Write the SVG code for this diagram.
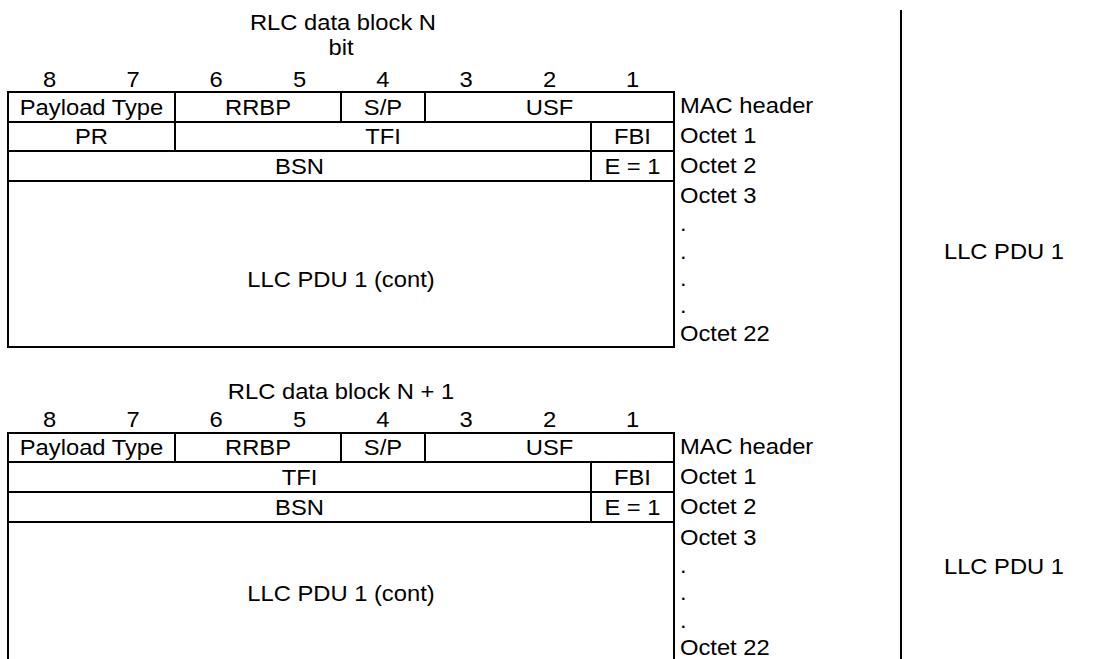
<svg xmlns="http://www.w3.org/2000/svg" width="1103" height="659" viewBox="0 0 1103 659">
<style>
.t { font-family: "Liberation Sans", Arial, sans-serif; font-size: 22px; fill: #000; transform-box: fill-box; transform: scaleX(1.08); }
.c { text-anchor: middle; transform-origin: center; }
.l { text-anchor: start; transform-origin: left center; }
.ln { stroke: #000; stroke-width: 2; fill: none; }
</style>
<rect x="0" y="0" width="1103" height="659" fill="#fff"/>

<g id="block-n">
  <g id="title-n">
    <text class="t c" x="343" y="30">RLC data block N</text>
    <text class="t c" x="341" y="55">bit</text>
  </g>
  <g id="bits-n">
    <text class="t c" x="49.6" y="87">8</text>
    <text class="t c" x="133" y="87">7</text>
    <text class="t c" x="216" y="87">6</text>
    <text class="t c" x="299.5" y="87">5</text>
    <text class="t c" x="383" y="87">4</text>
    <text class="t c" x="466" y="87">3</text>
    <text class="t c" x="549.5" y="87">2</text>
    <text class="t c" x="632.5" y="87">1</text>
  </g>
  <g id="frame-n">
    <rect class="ln" x="8" y="92" width="666" height="255"/>
    <path class="ln" d="M8 122H674M8 151H674M8 181H674M175 92V151M341 92V122M425 92V122M591 122V181"/>
  </g>
  <g id="mac-n">
    <text class="t c" x="91.5" y="115">Payload Type</text>
    <text class="t c" x="258" y="115">RRBP</text>
    <text class="t c" x="383" y="115">S/P</text>
    <text class="t c" x="549.5" y="115">USF</text>
  </g>
  <g id="oct1-n">
    <text class="t c" x="91.5" y="144.5">PR</text>
    <text class="t c" x="383" y="144.5">TFI</text>
    <text class="t c" x="632.5" y="144.5">FBI</text>
  </g>
  <g id="oct2-n">
    <text class="t c" x="299.5" y="174">BSN</text>
    <text class="t c" x="632.5" y="174">E = 1</text>
  </g>
  <g id="payload-n">
    <text class="t c" x="341" y="287">LLC PDU 1 (cont)</text>
  </g>
  <g id="labels-n">
    <text class="t l" x="680" y="113">MAC header</text>
    <text class="t l" x="680" y="143">Octet 1</text>
    <text class="t l" x="680" y="173">Octet 2</text>
    <text class="t l" x="680" y="203">Octet 3</text>
    <text class="t l" x="680" y="231">.</text>
    <text class="t l" x="680" y="259">.</text>
    <text class="t l" x="680" y="286">.</text>
    <text class="t l" x="680" y="313">.</text>
    <text class="t l" x="680" y="341">Octet 22</text>
  </g>
</g>

<g id="block-n1">
  <g id="title-n1">
    <text class="t c" x="341" y="399">RLC data block N + 1</text>
  </g>
  <g id="bits-n1">
    <text class="t c" x="49.6" y="427">8</text>
    <text class="t c" x="133" y="427">7</text>
    <text class="t c" x="216" y="427">6</text>
    <text class="t c" x="299.5" y="427">5</text>
    <text class="t c" x="383" y="427">4</text>
    <text class="t c" x="466" y="427">3</text>
    <text class="t c" x="549.5" y="427">2</text>
    <text class="t c" x="632.5" y="427">1</text>
  </g>
  <g id="frame-n1">
    <path class="ln" d="M8 670V433H674V670M8 462H674M8 492H674M8 522H674M175 433V462M341 433V462M425 433V462M591 462V522"/>
  </g>
  <g id="mac-n1">
    <text class="t c" x="91.5" y="455.5">Payload Type</text>
    <text class="t c" x="258" y="455.5">RRBP</text>
    <text class="t c" x="383" y="455.5">S/P</text>
    <text class="t c" x="549.5" y="455.5">USF</text>
  </g>
  <g id="oct1-n1">
    <text class="t c" x="299.5" y="485">TFI</text>
    <text class="t c" x="632.5" y="485">FBI</text>
  </g>
  <g id="oct2-n1">
    <text class="t c" x="299.5" y="515">BSN</text>
    <text class="t c" x="632.5" y="515">E = 1</text>
  </g>
  <g id="payload-n1">
    <text class="t c" x="341" y="601">LLC PDU 1 (cont)</text>
  </g>
  <g id="labels-n1">
    <text class="t l" x="680" y="454">MAC header</text>
    <text class="t l" x="680" y="484">Octet 1</text>
    <text class="t l" x="680" y="514">Octet 2</text>
    <text class="t l" x="680" y="545">Octet 3</text>
    <text class="t l" x="680" y="573">.</text>
    <text class="t l" x="680" y="600">.</text>
    <text class="t l" x="680" y="628">.</text>
    <text class="t l" x="680" y="655">Octet 22</text>
  </g>
</g>

<g id="connectors">
  <line class="ln" x1="901" y1="10" x2="901" y2="659"/>
</g>

<g id="llc-pdu">
  <text class="t c" x="1004" y="259">LLC PDU 1</text>
  <text class="t c" x="1004" y="574">LLC PDU 1</text>
</g>
</svg>
